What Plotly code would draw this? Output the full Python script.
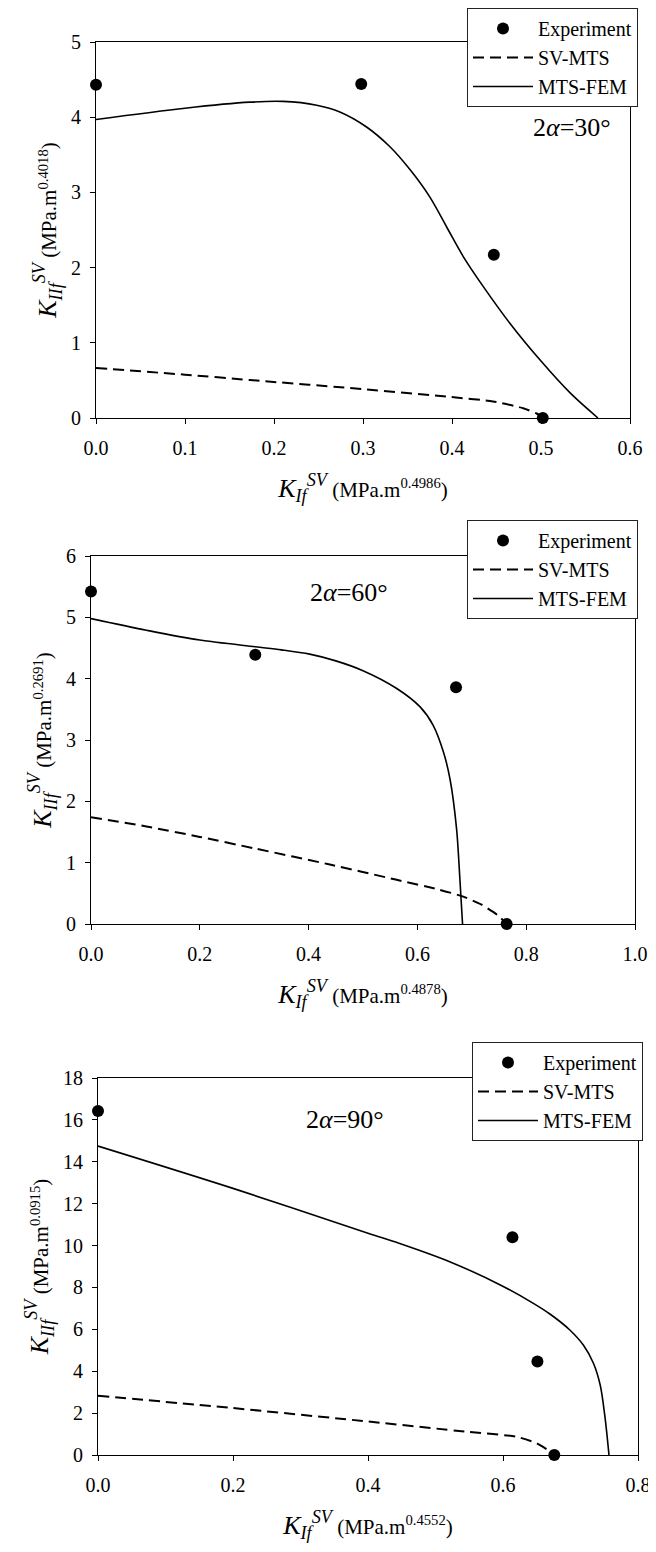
import plotly.graph_objects as go

# ---------------- data ----------------
# Panel 1 (2α = 30°)
p1_exp_x = [0.0, 0.298, 0.447, 0.502]
p1_exp_y = [4.43, 4.44, 2.17, 0.0]
p1_sv_x = [0.0, 0.1, 0.173, 0.304, 0.398, 0.446, 0.48, 0.495, 0.503]
p1_sv_y = [0.665, 0.576, 0.505, 0.38, 0.28, 0.22, 0.13, 0.06, 0.0]
p1_fem_x = [0.0, 0.1, 0.173, 0.21, 0.248, 0.274, 0.304, 0.33, 0.353, 0.375, 0.394, 0.413, 0.435, 0.465, 0.499, 0.533, 0.564]
p1_fem_y = [3.97, 4.12, 4.20, 4.21, 4.16, 4.07, 3.87, 3.61, 3.30, 2.94, 2.54, 2.14, 1.75, 1.26, 0.77, 0.33, 0.0]

# Panel 2 (2α = 60°)
p2_exp_x = [0.0, 0.302, 0.671, 0.764]
p2_exp_y = [5.42, 4.39, 3.86, 0.0]
p2_sv_x = [0.0, 0.102, 0.2, 0.302, 0.439, 0.562, 0.64, 0.683, 0.717, 0.748, 0.764]
p2_sv_y = [1.74, 1.59, 1.42, 1.23, 0.97, 0.72, 0.56, 0.45, 0.32, 0.14, 0.0]
p2_fem_x = [0.0, 0.102, 0.2, 0.302, 0.35, 0.402, 0.45, 0.5, 0.562, 0.605, 0.629, 0.648, 0.66, 0.672, 0.678, 0.683]
p2_fem_y = [4.98, 4.79, 4.63, 4.52, 4.47, 4.40, 4.29, 4.13, 3.84, 3.54, 3.24, 2.80, 2.36, 1.55, 0.75, 0.0]

# Panel 3 (2α = 90°)
p3_exp_x = [0.0, 0.614, 0.651, 0.676]
p3_exp_y = [16.42, 10.4, 4.46, 0.0]
p3_sv_x = [0.0, 0.2, 0.4, 0.546, 0.62, 0.65, 0.665, 0.676]
p3_sv_y = [2.83, 2.24, 1.60, 1.11, 0.87, 0.56, 0.27, 0.0]
p3_fem_x = [0.0, 0.2, 0.4, 0.447, 0.521, 0.596, 0.645, 0.670, 0.699, 0.719, 0.734, 0.744, 0.751, 0.757]
p3_fem_y = [14.75, 12.73, 10.59, 10.1, 9.23, 8.12, 7.24, 6.72, 5.97, 5.25, 4.38, 3.34, 1.83, 0.0]

angle_labels = ["30°", "60°", "90°"]
x_exponents = ["0.4986", "0.4878", "0.4552"]
y_exponents = ["0.4018", "0.2691", "0.0915"]

OFF = 8  # page body margin offset
W, H = 656 - OFF, 1552 - OFF
FONT = "Liberation Serif"

panels = [
    dict(ex=p1_exp_x, ey=p1_exp_y, sx=p1_sv_x, sy=p1_sv_y, fx=p1_fem_x, fy=p1_fem_y,
         box=(96, 630, 42, 418), xr=[0, 0.6], xd=0.1, yr=[0, 5], yd=1,
         leg=(467, 8), ann=(0.535, 3.86)),
    dict(ex=p2_exp_x, ey=p2_exp_y, sx=p2_sv_x, sy=p2_sv_y, fx=p2_fem_x, fy=p2_fem_y,
         box=(91, 635, 556, 924), xr=[0, 1.0], xd=0.2, yr=[0, 6], yd=1,
         leg=(467, 520), ann=(0.474, 5.41)),
    dict(ex=p3_exp_x, ey=p3_exp_y, sx=p3_sv_x, sy=p3_sv_y, fx=p3_fem_x, fy=p3_fem_y,
         box=(98, 638, 1078, 1455), xr=[0, 0.8], xd=0.2, yr=[0, 18], yd=2,
         leg=(472, 1042), ann=(0.366, 16.0)),
]

fig = go.Figure()
layout = dict(
    width=W, height=H,
    margin=dict(l=0, r=0, t=0, b=0, autoexpand=False),
    paper_bgcolor="white", plot_bgcolor="white",
    font=dict(family=FONT, color="black", size=19),
    showlegend=True,
)
annotations = []

for i, p in enumerate(panels):
    n = i + 1
    xa = "x" if n == 1 else f"x{n}"
    ya = "y" if n == 1 else f"y{n}"
    lg = "legend" if n == 1 else f"legend{n}"
    fig.add_trace(go.Scatter(x=p["ex"], y=p["ey"], mode="markers", name="Experiment",
                             marker=dict(color="black", size=12), cliponaxis=False,
                             xaxis=xa, yaxis=ya, legend=lg))
    fig.add_trace(go.Scatter(x=p["sx"], y=p["sy"], mode="lines", name="SV-MTS",
                             line=dict(color="black", width=2, dash="11px,6px", shape="spline", smoothing=0.6),
                             xaxis=xa, yaxis=ya, legend=lg))
    fig.add_trace(go.Scatter(x=p["fx"], y=p["fy"], mode="lines", name="MTS-FEM",
                             line=dict(color="black", width=1.6, shape="spline", smoothing=0.9),
                             xaxis=xa, yaxis=ya, legend=lg))
    l, r, t, b = [v - OFF for v in p["box"]]
    xtitle = ("<i>K</i><sub><i>If</i></sub><sup><i>SV</i></sup>"
              f"<span style='font-size:21px'> (MPa.m<sup>{x_exponents[i]}</sup>)</span>")
    ytitle = ("<i>K</i><sub><i>IIf</i></sub><sup><i>SV</i></sup>"
              f"<span style='font-size:21px'> (MPa.m<sup>{y_exponents[i]}</sup>)</span>")
    layout["xaxis" if n == 1 else f"xaxis{n}"] = dict(
        domain=[l / W, r / W], anchor=ya, range=p["xr"], dtick=p["xd"], tick0=0,
        tickformat=".1f", showgrid=False, zeroline=False, showline=True, linecolor="black",
        linewidth=1, mirror=True, ticks="outside", ticklen=5, tickcolor="black",
        ticklabelstandoff=7,
        tickfont=dict(size=20, family=FONT),
        title=dict(text=xtitle, font=dict(size=26, family=FONT), standoff=20),
    )
    layout["yaxis" if n == 1 else f"yaxis{n}"] = dict(
        domain=[1 - b / H, 1 - t / H], anchor=xa, range=p["yr"], dtick=p["yd"], tick0=0,
        showgrid=False, zeroline=False, showline=True, linecolor="black",
        linewidth=1, mirror=True, ticks="outside", ticklen=5, tickcolor="black",
        ticklabelstandoff=5,
        tickfont=dict(size=20, family=FONT),
        title=dict(text=ytitle, font=dict(size=26, family=FONT), standoff=6),
    )
    lx, ly = p["leg"]
    layout[lg] = dict(
        x=(lx - OFF) / W, y=1 - (ly - OFF) / H, xanchor="left", yanchor="top",
        xref="paper", yref="paper",
        bgcolor="white", bordercolor="#222", borderwidth=1,
        font=dict(size=20, family=FONT), itemwidth=60, tracegroupgap=0,
    )
    annotations.append(dict(
        x=p["ann"][0], y=p["ann"][1], xref=xa, yref=ya, showarrow=False,
        text=f"2<i>α</i>={angle_labels[i]}", font=dict(size=26, family=FONT),
    ))

layout["annotations"] = annotations
fig.update_layout(**layout)
fig.write_html("out.html")
